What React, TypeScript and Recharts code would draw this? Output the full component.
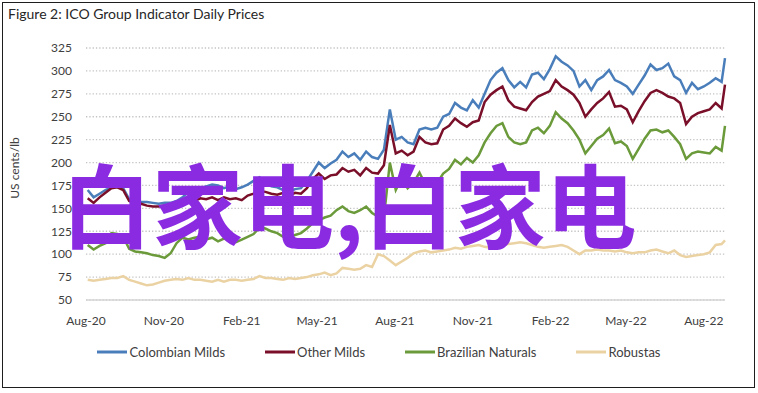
import React from 'react';
import { LineChart, Line, XAxis, YAxis, CartesianGrid } from 'recharts';

const TITLE = 'Figure 2: ICO Group Indicator Daily Prices';
const Y_LABEL = 'US cents/lb';
const OVERLAY_TEXT = '白家电,白家电';

const FIRST_WEEK = '2020-08-03';
const LAST_DAY = '2022-08-26';
const X_START = '2020-08-01';

const X_TICK_DATES = ['2020-08-01', '2020-11-01', '2021-02-01', '2021-05-01', '2021-08-01', '2021-11-01', '2022-02-01', '2022-05-01', '2022-08-01'];
const X_TICK_LABELS = ['Aug-20', 'Nov-20', 'Feb-21', 'May-21', 'Aug-21', 'Nov-21', 'Feb-22', 'May-22', 'Aug-22'];
const Y_TICKS = [50, 75, 100, 125, 150, 175, 200, 225, 250, 275, 300, 325];

const colombianMilds = [
  170, 162, 166, 170, 173, 174, 172, 160, 158, 157,
  157, 156, 155, 156, 156, 158, 162, 168, 171, 172,
  174, 176, 175, 172, 174, 171, 173, 176, 180, 184,
  178, 174, 173, 170, 168, 171, 172, 180, 190, 200,
  194, 199, 203, 212, 206, 210, 203, 212, 206, 204,
  214, 258, 225, 228, 222, 220, 236, 238, 236, 238,
  250, 253, 265, 260, 257, 268, 260, 275, 290, 298,
  303, 290, 282, 288, 282, 296, 298, 291, 302, 316,
  310, 306, 300, 283, 290, 279, 290, 294, 301, 290,
  287, 283, 275, 285, 295, 307, 301, 303, 308, 294,
  290, 276, 287, 280, 283, 287, 292, 288, 314,
];

const otherMilds = [
  161, 156, 162, 167, 172, 173, 170, 158, 156, 155,
  153, 152, 152, 153, 150, 152, 157, 159, 158, 161,
  160, 162, 159, 162, 160, 161, 159, 164, 166, 169,
  168, 166, 165, 167, 164, 167, 166, 172, 182, 188,
  182, 186, 187, 194, 190, 192, 186, 194, 189, 188,
  197, 241, 210, 213, 208, 212, 228, 222, 220, 221,
  236, 240, 248, 243, 239, 244, 246, 266, 274, 279,
  283, 268, 261, 259, 257, 266, 272, 275, 278, 290,
  283, 279, 274, 265, 250, 258, 265, 270, 277, 261,
  262, 258, 244, 256, 267, 276, 279, 276, 272, 270,
  265, 242, 250, 254, 256, 258, 265, 259, 285,
];

const brazilianNaturals = [
  110, 105, 109, 112, 123, 122, 119, 106, 103, 102,
  101, 99, 98, 96, 101, 112, 118, 116, 118, 119,
  116, 118, 114, 117, 115, 113, 116, 119, 122, 129,
  128, 125, 123, 119, 118, 121, 123, 128, 134, 137,
  140, 142, 148, 152, 147, 145, 148, 152, 145, 141,
  140, 200, 170, 183, 172, 178, 189, 176, 174, 178,
  188, 193, 203, 198, 205, 200, 208, 222, 232, 240,
  243, 228, 222, 220, 222, 235, 238, 232, 240, 255,
  248, 243, 235, 225, 210, 218, 226, 230, 237, 221,
  223, 218, 204, 215, 226, 235, 236, 233, 235, 228,
  220, 204, 210, 212, 211, 210, 217, 213, 240,
];

const robustas = [
  72, 71, 72, 73, 74, 74, 76, 72, 70, 68,
  66, 67, 69, 71, 72, 73, 72, 74, 72, 72,
  71, 70, 72, 70, 72, 72, 71, 72, 73, 76,
  74, 74, 73, 72, 74, 73, 74, 75, 77, 78,
  80, 77, 79, 85, 84, 83, 84, 88, 86, 100,
  98, 93, 88, 92, 96, 101, 103, 104, 102, 103,
  104, 105, 107, 106, 108, 109, 110, 108, 107, 109,
  110, 111, 112, 113, 112, 110, 108, 107, 108, 109,
  110, 108, 104, 100, 104, 104, 105, 104, 104, 103,
  104, 102, 101, 102, 102, 104, 105, 103, 101, 104,
  99, 97, 98, 99, 100, 102, 110, 111, 115,
];

const SERIES = [
  { key: 'colombian', name: 'Colombian Milds', color: '#4A7EBB', values: colombianMilds },
  { key: 'other', name: 'Other Milds', color: '#7A0F2A', values: otherMilds },
  { key: 'brazilian', name: 'Brazilian Naturals', color: '#6B9A3A', values: brazilianNaturals },
  { key: 'robustas', name: 'Robustas', color: '#EBD2A3', values: robustas },
];

const ts = (s: string) => new Date(s + 'T00:00:00Z').getTime();
const DAY = 86400000;

const n = colombianMilds.length;
const DATES: number[] = [];
for (let i = 0; i < n - 1; i++) DATES.push(ts(FIRST_WEEK) + i * 7 * DAY);
DATES.push(ts(LAST_DAY));

const DATA = DATES.map((t, i) => {
  const row: any = { t };
  SERIES.forEach((s) => { row[s.key] = s.values[i]; });
  return row;
});

const TICK_TS = X_TICK_DATES.map(ts);
const labelFor = (v: number) => {
  const i = TICK_TS.indexOf(v);
  return i >= 0 ? X_TICK_LABELS[i] : '';
};

const FONT = 'Lato, "Open Sans", sans-serif';

export default function App() {
  return (
    <div style={{ position: 'absolute', left: 0, top: 0, width: 758, height: 393, background: '#fff', fontFamily: FONT }}>
      <div style={{ position: 'absolute', left: 2, top: 2, width: 753, height: 386, border: '1.5px solid #1e1e1e', boxSizing: 'border-box' }} />
      <div style={{ position: 'absolute', left: 8, top: 5, fontSize: 14, color: '#262626', whiteSpace: 'nowrap' }}>{TITLE}</div>
      <div style={{ position: 'absolute', left: 0, top: 0 }}>
        <LineChart width={758} height={393} data={DATA} margin={{ top: 48, right: 33, bottom: 63, left: 26 }}>
          <CartesianGrid vertical={false} stroke="#c4c4c4" strokeDasharray="1.3 2" strokeWidth={1.3} />
          <XAxis
            dataKey="t"
            type="number"
            domain={[ts(X_START), ts(LAST_DAY)]}
            ticks={TICK_TS}
            interval={0}
            tickFormatter={labelFor}
            tick={{ fontSize: 12, fill: '#404040', fontFamily: FONT }}
            tickLine={false}
            tickSize={0}
            tickMargin={16}
            height={30}
            axisLine={{ stroke: '#d6d6d6', strokeWidth: 1.5 }}
          />
          <YAxis
            domain={[50, 325]}
            ticks={Y_TICKS}
            interval={0}
            tick={{ fontSize: 12, fill: '#404040', fontFamily: FONT }}
            tickLine={false}
            axisLine={false}
            tickSize={0}
            tickMargin={14}
            width={60}
          />
          {SERIES.map((s) => (
            <Line
              key={s.key}
              dataKey={s.key}
              name={s.name}
              type="linear"
              stroke={s.color}
              strokeWidth={2.5}
              dot={false}
              isAnimationActive={false}
            />
          ))}
        </LineChart>
      </div>
      <div style={{ position: 'absolute', left: 0, top: 343, width: 758, height: 18, display: 'flex', justifyContent: 'center', alignItems: 'center', gap: 40 }}>
        {SERIES.map((s) => (
          <div key={s.key} style={{ display: 'flex', alignItems: 'center' }}>
            <svg width={30} height={4}><line x1={0} y1={2} x2={30} y2={2} stroke={s.color} strokeWidth={3} /></svg>
            <span style={{ marginLeft: 2, fontSize: 13, color: '#404040', whiteSpace: 'nowrap' }}>{s.name}</span>
          </div>
        ))}
      </div>
      <svg width={758} height={393} style={{ position: 'absolute', left: 0, top: 0, pointerEvents: 'none' }}>
        <text transform="translate(19,168) rotate(-90)" textAnchor="middle" fontSize={12} fill="#404040" fontFamily={FONT}>{Y_LABEL}</text>
        <text x={61} y={241} fontSize={91} fontWeight={700} fill="#8A2BE2" fontFamily='"Noto Sans CJK SC", sans-serif'>{OVERLAY_TEXT}</text>
      </svg>
    </div>
  );
}
